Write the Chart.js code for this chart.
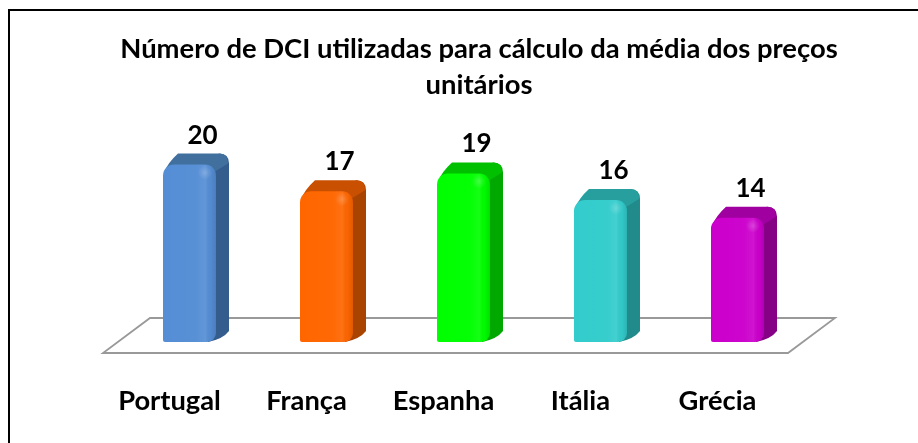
<!DOCTYPE html>
<html><head><meta charset="utf-8">
<style>html,body{margin:0;padding:0;background:#fff}canvas{display:block}</style>
<script src="https://cdn.jsdelivr.net/npm/chart.js@4"></script></head>
<body><canvas id="c" width="918" height="443"></canvas>
<script>
const categories = ["Portugal","França","Espanha","Itália","Grécia"];
const values = [20,17,19,16,14];
const titleLines = ["Número de DCI utilizadas para cálculo da média dos preços","unitários"];
const frontColors = ["#558ed5","#ff6600","#00ff00","#33cccc","#cc00cc"];
const sideColors = ["#345c8c","#a84400","#00a800","#218a8a","#860086"];
const topColors = ["#41709f","#c85000","#00c000","#289f9f","#a000a0"];
const DX=13, DY=11, R=11;
const scene = {
 id:'scene',
 beforeDraw(ch){
  const c=ch.ctx; c.save();
  c.fillStyle='#fff'; c.fillRect(0,0,ch.width,ch.height);
  c.strokeStyle='#000'; c.lineWidth=2;
  c.strokeRect(9,10,ch.width+10,ch.height+10);
  const b=ch.chartArea.bottom;
  c.strokeStyle='#999'; c.lineWidth=1.8;
  c.beginPath();
  c.moveTo(150,b-24);c.lineTo(835,b-24);c.lineTo(788,b+11);c.lineTo(103,b+11);c.closePath();c.stroke();
  c.restore();
 },
 beforeDatasetsDraw(ch){
  const c=ch.ctx, m=ch.getDatasetMeta(0); c.save();
  m.data.forEach((el,i)=>{
    const l=el.x-el.width/2, r=el.x+el.width/2, t=el.y, b=el.base;
    c.fillStyle=sideColors[i];
    c.beginPath();
    c.moveTo(r-R,t);
    c.lineTo(r+DX-10,t-DY);
    c.quadraticCurveTo(r+DX,t-DY,r+DX,t-DY+10);
    c.lineTo(r+DX,b-DY);
    c.quadraticCurveTo(r+DX-6,b-3,r-8,b);
    c.closePath();c.fill();
    c.fillStyle=topColors[i];
    c.beginPath();
    c.moveTo(l+1,t+8);
    c.quadraticCurveTo(l+5,t-2,l+DX+2,t-DY);
    c.lineTo(r+DX-9,t-DY);
    c.quadraticCurveTo(r+DX-1,t-DY,r+DX-1,t-1);
    c.lineTo(r-1,t+7);
    c.lineTo(r-R,t+3);c.closePath();c.fill();
  });
  c.restore();
 },
 afterDatasetsDraw(ch){
  const c=ch.ctx, m=ch.getDatasetMeta(0); c.save();
  m.data.forEach((el,i)=>{
    const l=el.x-el.width/2, r=el.x+el.width/2, w=el.width, t=el.y, h=el.base-el.y;
    c.save();
    c.beginPath(); c.roundRect(l,t,w,h,[R,R,9,2]); c.clip();
    const g=c.createLinearGradient(l,0,r,0);
    g.addColorStop(0,'rgba(255,255,255,0)');
    g.addColorStop(.62,'rgba(255,255,255,.02)');
    g.addColorStop(.80,'rgba(255,255,255,.08)');
    g.addColorStop(.90,'rgba(0,0,0,.02)');
    g.addColorStop(1,'rgba(0,0,0,.12)');
    c.fillStyle=g; c.fillRect(l,t,w,h);
    const s=c.createRadialGradient(r-11,t+8,0,r-11,t+8,7);
    s.addColorStop(0,'rgba(255,255,255,.2)');s.addColorStop(1,'rgba(255,255,255,0)');
    c.fillStyle=s; c.fillRect(r-18,t+1,14,14);
    c.restore();
  });
  c.font='bold 26px Lato'; c.fillStyle='#000'; c.textAlign='center'; c.textBaseline='alphabetic';
  m.data.forEach((el,i)=>{ c.fillText(String(values[i]), el.x+13, el.y-21); });
  c.restore();
 }
};
new Chart(document.getElementById('c'),{
 type:'bar',
 data:{labels:categories,datasets:[{data:values,backgroundColor:frontColors,borderWidth:0,
   borderRadius:{topLeft:R,topRight:R,bottomLeft:2,bottomRight:9},borderSkipped:false,
   categoryPercentage:1,barPercentage:53/137}]},
 options:{responsive:false,animation:false,
  layout:{padding:{left:40,right:0,top:31,bottom:0}},
  plugins:{legend:{display:false},tooltip:{enabled:false},
   title:{display:true,text:titleLines,color:'#000',font:{family:'Lato',weight:'bold',size:27.4,lineHeight:1.31},padding:{top:0,bottom:8.6}}},
  scales:{
   x:{grid:{display:false},border:{display:false},afterFit(s){s.height=101;},
      ticks:{color:'#000',font:{family:'Lato',weight:'bold',size:27.3},labelOffset:-20,padding:35,maxRotation:0}},
   y:{position:'left',min:0,max:26,grid:{display:false},border:{display:false},ticks:{display:false},afterFit(s){s.width=81;}},
   y2:{position:'right',min:0,max:26,grid:{display:false},border:{display:false},ticks:{display:false},afterFit(s){s.width=112;}}
  }},
 plugins:[scene]
});
</script></body></html>
